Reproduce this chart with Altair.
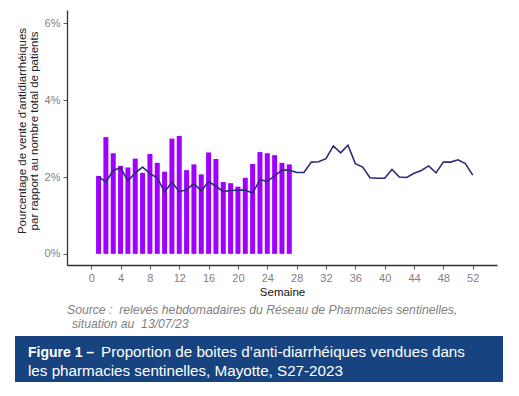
import altair as alt
import pandas as pd

# ---- data ----
bar_weeks = list(range(1, 28))
bar_values = [2.03, 3.04, 2.62, 2.29, 2.25, 2.48, 2.11, 2.60, 2.37, 2.14,
              3.00, 3.07, 2.18, 2.33, 2.07, 2.64, 2.47, 1.87, 1.84, 1.75,
              1.98, 2.34, 2.65, 2.62, 2.57, 2.37, 2.33]
line_weeks = list(range(1, 53))
line_values = [2.01, 1.87, 2.17, 2.24, 1.90, 2.11, 2.26, 2.09, 1.98, 1.61,
               1.87, 1.62, 1.67, 1.83, 1.64, 1.88, 1.76, 1.62, 1.65, 1.66,
               1.66, 1.58, 1.93, 1.89, 2.03, 2.18, 2.18, 2.12, 2.12, 2.39,
               2.40, 2.48, 2.81, 2.63, 2.83, 2.35, 2.26, 1.98, 1.97, 1.97,
               2.20, 2.00, 1.99, 2.10, 2.17, 2.29, 2.11, 2.39, 2.39, 2.45,
               2.35, 2.05]
x_ticks = list(range(0, 53, 4))
y_ticks = [0, 2, 4, 6]

y_title = ["Pourcentage de vente d'antidiarrhéiques",
           "par rapport au nombre total de patients"]
x_title = "Semaine"
source_lines = ["Source :\u00a0 relevés hebdomadaires du Réseau de Pharmacies sentinelles,",
                "situation au\u00a0 13/07/23"]
fig_bold = "Figure 1 –"
fig_line1 = "Proportion de boites d\u2019anti-diarrhéiques vendues dans"
fig_line2 = "les pharmacies sentinelles, Mayotte, S27-2023"

bars_df = pd.DataFrame({"week": bar_weeks, "value": bar_values})
line_df = pd.DataFrame({"week": line_weeks, "value": line_values})
one = pd.DataFrame({"a": [0]})

FONT = "Liberation Sans"
W, H = 430, 255

xscale = alt.Scale(domain=[-2.62, 54.63], nice=False, zero=False)
yscale = alt.Scale(domain=[-0.29, 6.35], nice=False, zero=False)

xaxis = alt.Axis(values=x_ticks, grid=False, domainColor="#333333", domainWidth=1.3,
                 tickColor="#555555", tickSize=4, labelColor="#7f7f7f", labelFontSize=11,
                 labelFont=FONT, labelPadding=3, labelOverlap=False, labelFlush=False,
                 title=x_title, titleFont=FONT, titleFontSize=11.5,
                 titleFontWeight="normal", titleColor="#111111", titlePadding=3)
yaxis = alt.Axis(values=y_ticks, grid=False, domainColor="#333333", domainWidth=1.3,
                 tickColor="#555555", tickSize=4, labelColor="#7f7f7f", labelFontSize=11,
                 labelFont=FONT, labelPadding=3, labelOverlap=False,
                 labelExpr="datum.value + '%'", title=None)

bars = alt.Chart(bars_df).mark_bar(size=5, color="#a000ff").encode(
    x=alt.X("week:Q", scale=xscale, axis=xaxis),
    y=alt.Y("value:Q", scale=yscale, axis=yaxis),
)
line = alt.Chart(line_df).mark_line(color="#2e2b78", strokeWidth=1.6).encode(
    x=alt.X("week:Q", scale=xscale, axis=xaxis),
    y=alt.Y("value:Q", scale=yscale, axis=yaxis),
)

def txt(s, x, y, **kw):
    return alt.Chart(one).mark_text(text=s, font=FONT, **kw).encode(
        x=alt.value(x), y=alt.value(y))

left, top = 67, 10  # plot origin in page coords

ytitle1 = txt(y_title[0], 23 - left, 131 - top, angle=270, align="center",
              baseline="middle", fontSize=11.5, color="#222222")
ytitle2 = txt(y_title[1], 35 - left, 131 - top, angle=270, align="center",
              baseline="middle", fontSize=11.5, color="#222222")

src1 = txt(source_lines[0], 67 - left, 314 - top, align="left", baseline="alphabetic",
           fontSize=12.2, fontStyle="italic", color="#7f7f7f")
src2 = txt(source_lines[1], 72 - left, 328 - top, align="left", baseline="alphabetic",
           fontSize=12.2, fontStyle="italic", color="#7f7f7f")

banner = alt.Chart(one).mark_rect(color="#174480").encode(
    x=alt.value(15 - left), x2=alt.value(504 - left),
    y=alt.value(336 - top), y2=alt.value(394 - top))

b1 = txt(fig_bold, 28 - left, 357 - top, align="left", baseline="alphabetic",
         fontSize=14, fontWeight="bold", color="white")
b2 = txt(fig_line1, 101 - left, 357 - top, align="left", baseline="alphabetic",
         fontSize=15.2, color="white")
b3 = txt(fig_line2, 28 - left, 376 - top, align="left", baseline="alphabetic",
         fontSize=15.2, color="white")

chart = alt.layer(bars, line, ytitle1, ytitle2, src1, src2, banner, b1, b2, b3).properties(
    width=W, height=H,
    autosize=alt.AutoSizeParams(type="none"),
    padding={"left": left - 8, "top": top - 8, "right": 6, "bottom": 117},
).configure_view(stroke=None).configure_axis(labelOverlap=False)

chart.save("out.html", embed_options={"renderer": "svg", "actions": False})
